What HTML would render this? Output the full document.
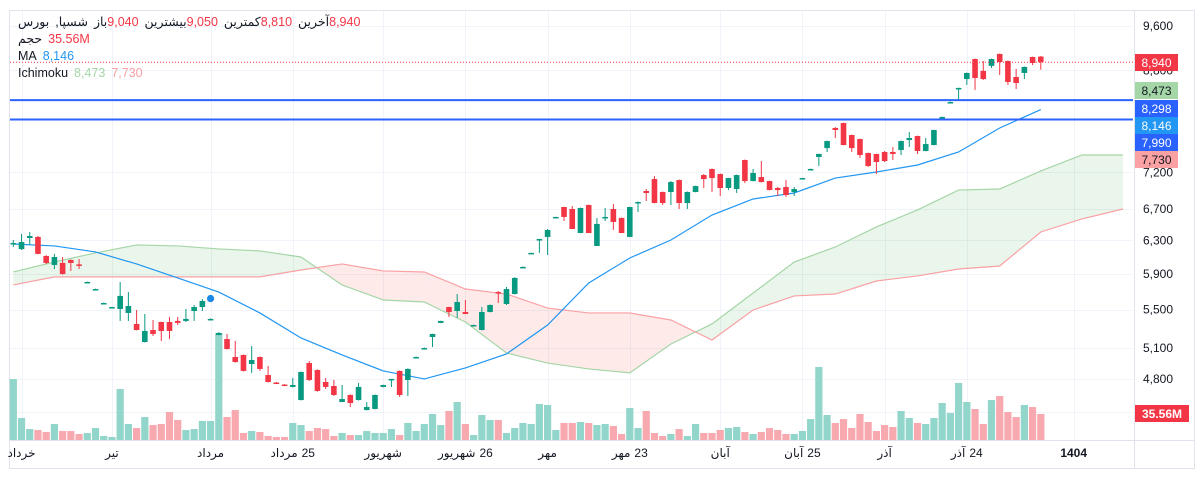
<!DOCTYPE html>
<html><head><meta charset="utf-8">
<style>
html,body{margin:0;padding:0;background:#fff;}
body{width:1203px;height:478px;overflow:hidden;position:relative;font-family:"Liberation Sans","DejaVu Sans",sans-serif;}
#legend{position:absolute;left:18px;top:14px;font-size:12.5px;color:#131722;line-height:17px;}
#legend .row{display:flex;white-space:nowrap;}
#legend .row span{unicode-bidi:isolate;}
#legend .r{color:#f23645;}
.gap{margin-left:6px;}
.tl{position:absolute;top:446px;font-size:12px;color:#131722;transform:translateX(-50%);white-space:nowrap;display:flex;flex-direction:row;direction:ltr;gap:4px;}
.tl span{unicode-bidi:isolate;}
</style></head>
<body>
<svg id="chart" width="1203" height="478" style="position:absolute;left:0;top:0"></svg>
<div id="legend">
 <div class="row"><span>بورس</span><span class="gap">,شسپا</span><span class="gap">باز</span><span class="r">9,040</span><span class="gap">بیشترین</span><span class="r">9,050</span><span class="gap">کمترین</span><span class="r">8,810</span><span class="gap">آخرین</span><span class="r">8,940</span></div>
 <div class="row"><span>حجم</span><span class="r gap">35.56M</span></div>
 <div class="row"><span>MA</span><span class="gap" style="color:#2196f3">8,146</span></div>
 <div class="row"><span>Ichimoku</span><span class="gap" style="color:#a5d6a7">8,473</span><span class="gap" style="color:#faa1a4">7,730</span></div>
</div>
<script>
const opens=[6256,6193,6330,6343,6110,6003,6027,6062,6010,5800,5720,5565,5522,5506,5463,5346,5160,5283,5367,5367,5378,5378,5484,5527,5395,5231,5190,5010,5030,4942,5010,4836,4765,4746,4724,4604,4951,4884,4770,4733,4586,4650,4604,4515,4524,4724,4795,4875,4789,5005,5095,5211,5357,5527,5484,5473,5330,5283,5473,5692,5560,5670,5975,6142,6305,6343,6590,6727,6701,6392,6754,6231,6590,6701,6584,6343,6780,6942,7107,6928,6928,7093,6780,6928,7163,7249,7178,6983,6969,7378,7079,7135,7079,6983,6997,6928,7115,7244,7422,7553,7857,7934,7749,7688,7480,7466,7495,7495,7524,7673,7734,7510,7598,8024,8263,8483,8650,8997,8789,8876,9087,8962,8685,8754,9033,9040];
const highs=[6305,6380,6405,6355,6120,6135,6098,6070,6074,5810,5730,5575,5530,5806,5692,5495,5452,5388,5370,5420,5420,5506,5549,5615,5405,5262,5242,5170,5035,5119,5015,4923,4770,4750,4808,4870,4971,4890,4808,4789,4742,4655,4761,4586,4655,4745,4799,4880,4900,5015,5105,5245,5380,5530,5670,5604,5340,5527,5555,5704,5749,5860,5985,6150,6320,6443,6600,6730,6740,6720,6760,6584,6714,6767,6590,6730,6800,6969,7149,6935,7079,7100,6935,7015,7178,7255,7185,7125,7170,7385,7249,7363,7085,6997,7093,6997,7125,7255,7470,7665,7870,7940,7755,7695,7485,7470,7510,7569,7665,7795,7740,7704,7830,8035,8275,8505,8760,9005,8962,9005,9095,8970,8823,8865,9040,9050];
const lows=[6219,6183,6244,6130,6015,5956,5890,5933,5956,5800,5715,5560,5518,5378,5378,5280,5155,5221,5170,5190,5335,5367,5378,5484,5390,5231,5085,4955,4870,4856,4875,4765,4758,4740,4720,4600,4780,4680,4705,4641,4586,4542,4600,4510,4520,4720,4724,4632,4641,5000,5090,5109,5355,5420,5410,5450,5325,5280,5470,5571,5549,5665,5970,6137,6147,6122,6585,6545,6440,6390,6390,6230,6545,6430,6390,6340,6662,6807,6775,6754,6754,6701,6701,6925,6983,6928,6874,6955,6915,7051,7075,7060,6950,6874,6860,6874,7110,7240,7292,7495,7704,7595,7495,7407,7278,7178,7349,7378,7451,7569,7466,7505,7595,8020,8258,8285,8550,8467,8633,8841,8719,8550,8483,8650,8892,8810];
const closes=[6268,6280,6355,6135,6027,6098,5898,6027,5995,5806,5726,5571,5527,5649,5538,5283,5273,5242,5273,5273,5357,5399,5527,5593,5399,5252,5089,4961,4875,4981,4894,4770,4761,4742,4742,4865,4789,4687,4724,4650,4613,4577,4724,4542,4650,4742,4799,4650,4894,5010,5099,5242,5378,5473,5582,5452,5335,5473,5549,5681,5726,5852,5980,6147,6317,6430,6597,6597,6443,6714,6392,6507,6597,6532,6392,6727,6794,6915,6780,6780,7065,6780,6928,7010,7107,7121,6983,7121,7163,7079,7192,7065,6955,6955,6888,6969,7121,7249,7466,7658,7826,7598,7553,7451,7292,7349,7363,7466,7658,7704,7510,7613,7826,8029,8268,8500,8754,8668,8650,8997,8945,8600,8583,8858,8927,8940];
const volumes=[83.4,30.1,15.0,13.7,10.9,21.9,12.3,12.3,8.2,9.6,16.4,5.5,4.1,69.8,21.9,16.4,31.5,20.5,21.9,38.3,27.4,13.7,15.0,26.0,26.0,146.4,31.5,41.0,9.6,12.3,10.9,5.5,4.1,4.1,23.3,20.5,12.3,16.4,15.0,5.5,9.6,6.8,6.8,12.3,9.6,9.6,15.0,6.8,23.3,12.3,21.9,35.6,20.5,39.7,52.0,21.9,6.8,34.2,27.4,27.4,9.6,16.4,23.3,21.9,49.2,47.9,13.7,23.3,23.3,24.6,23.3,20.5,21.9,19.2,8.2,43.8,16.4,39.7,9.6,5.5,8.2,15.0,5.5,21.9,9.6,9.6,13.7,16.4,17.8,10.9,8.2,10.9,16.4,13.7,8.2,8.2,12.3,28.7,99.9,34.2,23.3,28.7,16.4,35.6,24.6,12.3,20.5,17.8,39.7,30.1,23.3,21.9,30.1,50.6,36.9,78.0,52.0,42.4,21.9,54.7,60.2,38.3,31.5,47.9,45.1,35.56];
const maValues=[6256,6232,6159,6015,5852,5692,5463,5201,5030,4875,4799,4904,5040,5335,5795,6086,6305,6622,6834,6915,7121,7206,7306,7495,7857,8146];
const spanA=[5921,6038,6147,6244,6232,6195,6171,6098,5772,5604,5582,5367,5050,4951,4894,4856,5140,5346,5681,6038,6219,6469,6688,6955,6969,7221,7451,7451];
const spanB=[5772,5864,5864,5864,5864,5864,5864,5944,6015,5933,5921,5726,5670,5516,5463,5463,5388,5180,5495,5649,5670,5817,5875,5956,5991,6405,6571,6701];
const sampleStep=5;
const priceTicks=[9600,8800,8000,7200,6700,6300,5900,5500,5100,4800,4500];
const tickLabels=["9,600","8,800","8,000","7,200","6,700","6,300","5,900","5,500","5,100","4,800","4,500"];
const timeDays=["","","","25","","26","","23","","25","","24",""];
const timeWords=["خرداد","تیر","مرداد","مرداد","شهریور","شهریور","مهر","مهر","آبان","آبان","آذر","آذر","1404"];
const timeIdx=[1,12,24,34,45,55,65,75,86,96,106,116,129];
const hLines=[8298,7990];
const lastPrice=8940;
const dotIdx=24, dotPrice=5620;

const NS="http://www.w3.org/2000/svg";
const svg=document.getElementById('chart');
const PL=10,PR=1133,PB=440;
function X(i){return 13.3+8.22*i;}
function Y(p){return 26+509*Math.log(9600/p);}
function V(v){return PB-v/1.368;}
function mk(tag,attrs,parent){const e=document.createElementNS(NS,tag);for(const k in attrs)e.setAttribute(k,attrs[k]);(parent||svg).appendChild(e);return e;}

const frame=mk('rect',{x:9.5,y:10.5,width:1185,height:458,fill:'none',stroke:'#e0e3eb'});


const grid=mk('g',{});


priceTicks.forEach(p=>{const y=Math.round(Y(p))+0.5;mk('line',{x1:PL,x2:PR,y1:y,y2:y,stroke:'#f0f3fa'},grid);});
timeIdx.forEach(i=>{const x=Math.round(X(i))+0.5;mk('line',{x1:x,x2:x,y1:11,y2:PB,stroke:'#f0f3fa'},grid);});
mk('line',{x1:PL,x2:1195,y1:PB+0.5,y2:PB+0.5,stroke:'#e0e3eb'});
mk('line',{x1:PR+1.5,x2:PR+1.5,y1:11,y2:468,stroke:'#e0e3eb'});

const cloud=mk('g',{});


const G='rgba(67,160,71,0.11)',R='rgba(244,67,54,0.11)';
for(let k=0;k<spanA.length-1;k++){
  const x0=X(k*sampleStep),x1=X((k+1)*sampleStep);
  const a0=Y(spanA[k]),a1=Y(spanA[k+1]),b0=Y(spanB[k]),b1=Y(spanB[k+1]);
  const d0=a0-b0,d1=a1-b1;
  if(d0*d1<0){
    const t=d0/(d0-d1);const xm=x0+(x1-x0)*t,ym=a0+(a1-a0)*t;
    mk('polygon',{points:`${x0},${a0} ${xm},${ym} ${x0},${b0}`,fill:d0<0?G:R},cloud);
    mk('polygon',{points:`${xm},${ym} ${x1},${a1} ${x1},${b1}`,fill:d1<0?G:R},cloud);
  } else {
    mk('polygon',{points:`${x0},${a0} ${x1},${a1} ${x1},${b1} ${x0},${b0}`,fill:(d0+d1)<0?G:R},cloud);
  }
}
const pa=spanA.map((v,k)=>`${X(k*sampleStep)},${Y(v)}`).join(' ');
const pb=spanB.map((v,k)=>`${X(k*sampleStep)},${Y(v)}`).join(' ');
const la=mk('polyline',{points:pa,fill:'none',stroke:'#a5d6a7','stroke-width':1.2});


const lb=mk('polyline',{points:pb,fill:'none',stroke:'#faa1a4','stroke-width':1.2});



const vg=mk('g',{});


volumes.forEach((v,i)=>{
  const up=closes[i]>=opens[i];const y=V(v);
  const b=mk('rect',{x:X(i)-3.6,y:y,width:7.2,height:PB-y,fill:up?'#92d5ca':'#f8a9b0'},vg);
  
  
});

const ma=mk('polyline',{points:maValues.map((v,k)=>`${X(k*sampleStep)},${Y(v)}`).join(' '),fill:'none',stroke:'#2196f3','stroke-width':1.2});



const cg=mk('g',{});


opens.forEach((o,i)=>{
  const c=closes[i],up=c>=o,col=up?'#089981':'#f23645',x=X(i);
  const g=mk('g',{},cg);
  
  
  mk('line',{x1:x,x2:x,y1:Y(highs[i]),y2:Y(lows[i]),stroke:col,'stroke-width':1},g);
  const top=Y(Math.max(o,c)),bot=Y(Math.min(o,c));
  mk('rect',{x:x-2.8,y:top,width:5.6,height:Math.max(1.5,bot-top),fill:col},g);
});

const dot=mk('circle',{cx:X(dotIdx),cy:Y(dotPrice),r:3.6,fill:'#1e88e5'});



hLines.forEach(p=>{const l=mk('line',{x1:PL,x2:PR,y1:Y(p),y2:Y(p),stroke:'#2962ff','stroke-width':2});

});
const ll=mk('line',{x1:PL,x2:PR,y1:Y(lastPrice),y2:Y(lastPrice),stroke:'#f23645','stroke-width':1,'stroke-dasharray':'1,2'});



const ax=mk('g',{'font-family':'Liberation Sans, DejaVu Sans, sans-serif','font-size':12,fill:'#131722'});


priceTicks.forEach((p,k)=>{const t=mk('text',{x:1143,y:Y(p)+4},ax);t.textContent=tickLabels[k];

});

const boxes=[["8,940",54,'#f23645','#fff'],["8,473",82,'#a5d6a7','#131722'],["8,298",100,'#2962ff','#fff'],["8,146",117,'#2196f3','#fff'],["7,990",134,'#2962ff','#fff'],["7,730",151,'#faa1a4','#131722']];
boxes.forEach(b=>{
  const g=mk('g',{});
  
  
  mk('rect',{x:1135,y:b[1],width:43,height:17,fill:b[2]},g);
  const t=mk('text',{x:1156.5,y:b[1]+13,'text-anchor':'middle','font-size':12,fill:b[3],'font-family':'Liberation Sans, sans-serif'},g);t.textContent=b[0];
});
const vb=mk('g',{});


mk('rect',{x:1135,y:405,width:54,height:17,fill:'#f23645'},vb);
const vt=mk('text',{x:1162,y:418,'text-anchor':'middle','font-size':12,'font-weight':'bold',fill:'#fff','font-family':'Liberation Sans, sans-serif'},vb);vt.textContent="35.56M";

timeWords.forEach((w,k)=>{
  const d=document.createElement('div');d.className='tl';
  
  
  d.style.left=X(timeIdx[k])+'px';
  const s2=document.createElement('span');s2.textContent=w;d.appendChild(s2);
  if(timeDays[k]){const s1=document.createElement('span');s1.textContent=timeDays[k];d.appendChild(s1);}
  if(w==="1404")d.style.fontWeight='bold';
  document.body.appendChild(d);
});
</script>
</body></html>
